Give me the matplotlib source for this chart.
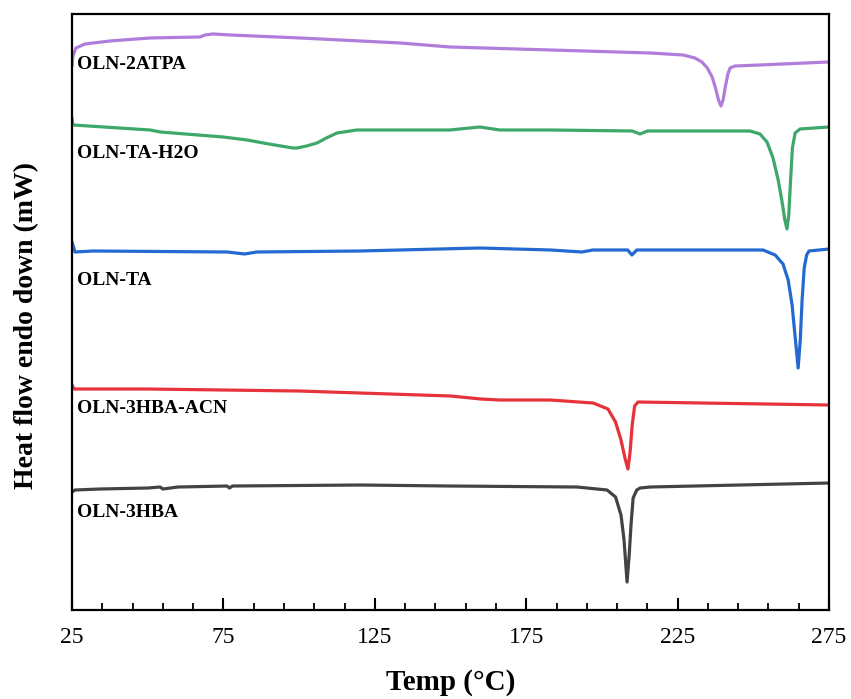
import matplotlib
matplotlib.use("Agg")
import matplotlib.pyplot as plt

# DSC traces, temperature (deg C) vs heat flow (mW, stacked offsets)
t_2atpa = [25.0, 25.3, 26.3, 29.3, 37.5, 50.8, 67.3, 68.9, 71.6, 77.2, 100.3, 133.3, 149.8,
           182.9, 215.9, 226.8, 230.7, 233.0, 234.8, 236.4, 237.5, 238.5, 239.3, 240.0, 240.8,
           241.6, 242.3, 244.0, 252.2, 275.0]
hf_2atpa = [5.44, 5.54, 5.62, 5.66, 5.69, 5.72, 5.73, 5.75, 5.76, 5.75, 5.72, 5.67, 5.63,
            5.60, 5.57, 5.55, 5.52, 5.48, 5.42, 5.33, 5.22, 5.10, 5.04, 5.10, 5.24,
            5.36, 5.42, 5.44, 5.45, 5.48]

t_ta_h2o = [25.0, 25.3, 50.8, 54.1, 74.9, 82.8, 90.0, 98.0, 99.3, 102.5, 105.9, 109.0, 112.5,
            119.1, 149.8, 156.4, 159.7, 166.3, 182.9, 210.0, 212.6, 215.0, 248.9, 252.2,
            254.5, 256.5, 258.2, 259.5, 260.4, 261.1, 261.7, 262.3, 262.9, 263.8, 265.4, 275.0]
hf_ta_h2o = [4.92, 4.85, 4.80, 4.78, 4.73, 4.70, 4.66, 4.62, 4.62, 4.64, 4.67, 4.72, 4.77,
             4.80, 4.80, 4.82, 4.83, 4.80, 4.80, 4.79, 4.76, 4.79, 4.79, 4.76,
             4.68, 4.52, 4.30, 4.08, 3.90, 3.81, 3.95, 4.30, 4.62, 4.77, 4.81, 4.83]

t_ta = [25.0, 26.0, 31.9, 76.2, 82.0, 86.0, 120.1, 159.7, 183.0, 193.4, 197.0, 208.5, 209.9,
        211.5, 232.4, 253.2, 257.2, 259.8, 261.5, 262.8, 263.9, 264.8, 265.5, 266.1, 266.8,
        267.6, 268.4, 275.0]
hf_ta = [3.68, 3.58, 3.59, 3.58, 3.56, 3.58, 3.59, 3.62, 3.60, 3.58, 3.60, 3.60, 3.55,
         3.60, 3.60, 3.60, 3.55, 3.46, 3.30, 3.05, 2.70, 2.42, 2.70, 3.10, 3.42,
         3.55, 3.59, 3.61]

t_3hba_acn = [25.0, 25.7, 50.0, 100.0, 120.1, 150.0, 160.0, 166.3, 182.9, 197.1, 202.0,
              204.5, 206.3, 207.6, 208.6, 209.3, 210.0, 210.8, 211.9, 275.0]
hf_3hba_acn = [2.25, 2.21, 2.21, 2.19, 2.17, 2.14, 2.11, 2.10, 2.10, 2.07, 2.01,
               1.88, 1.70, 1.52, 1.41, 1.58, 1.85, 2.04, 2.08, 2.05]

t_3hba = [25.0, 26.0, 34.2, 50.0, 54.1, 55.0, 60.0, 76.2, 77.0, 78.0, 120.1, 150.0, 191.8,
          201.7, 204.5, 206.3, 207.3, 208.3, 209.0, 209.6, 210.3, 211.5, 212.6, 215.9, 275.0]
hf_3hba = [1.18, 1.20, 1.21, 1.22, 1.23, 1.21, 1.23, 1.24, 1.22, 1.24, 1.25, 1.24, 1.23,
           1.20, 1.13, 0.95, 0.70, 0.28, 0.55, 0.85, 1.12, 1.20, 1.22, 1.23, 1.27]

names = ["OLN-2ATPA", "OLN-TA-H2O", "OLN-TA", "OLN-3HBA-ACN", "OLN-3HBA"]
colors = ["#B07EDA", "#3DA86A", "#2469CF", "#E5323B", "#434343"]
label_y = [5.45, 4.56, 3.29, 2.02, 0.98]

major_ticks = [25, 75, 125, 175, 225, 275]
minor_ticks = [t for t in range(35, 275, 10) if t not in major_ticks]

plt.rcParams["font.family"] = ["Liberation Serif", "DejaVu Serif"]

fig = plt.figure(figsize=(8.51, 6.99), dpi=100)
ax = fig.add_axes([0.0846, 0.1273, 0.8896, 0.8527])

curves = [(t_2atpa, hf_2atpa), (t_ta_h2o, hf_ta_h2o), (t_ta, hf_ta),
          (t_3hba_acn, hf_3hba_acn), (t_3hba, hf_3hba)]
for (t, hf), c in zip(curves, colors):
    ax.plot(t, hf, color=c, lw=2.3, solid_joinstyle="round", solid_capstyle="round")

for name, y in zip(names, label_y):
    ax.text(26.6, y, name, fontsize=14, fontweight="bold", va="center", ha="left")

ax.set_xlim(25, 275)
ax.set_ylim(0, 5.96)
ax.set_xticks(major_ticks)
ax.set_xticks(minor_ticks, minor=True)
ax.tick_params(axis="x", which="major", direction="in", length=9, width=1.5,
               labelsize=17, pad=12, top=False)
ax.tick_params(axis="x", which="minor", direction="in", length=5, width=1.3, top=False)
ax.set_yticks([])
for s in ax.spines.values():
    s.set_linewidth(1.6)

ax.set_xlabel("Temp (°C)", fontsize=21, fontweight="bold", labelpad=15)
ax.set_ylabel("Heat flow endo down (mW)", fontsize=20, fontweight="bold")
ax.yaxis.set_label_coords(-0.043, 0.477)

fig.savefig("out.png", dpi=100)
